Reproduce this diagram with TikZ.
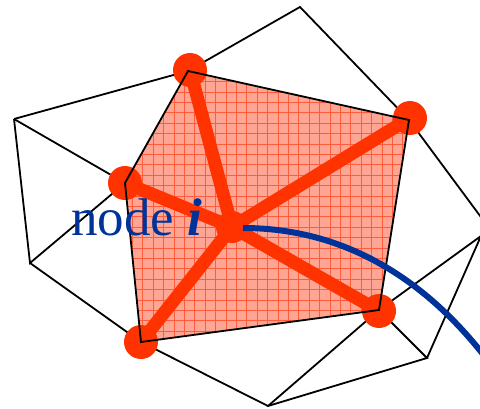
\documentclass[tikz,border=0pt]{standalone}
\usepackage{fontspec}
\setmainfont{Liberation Serif}
\definecolor{dotred}{HTML}{FF3300}
\definecolor{meshfill}{HTML}{FFA593}
\definecolor{meshline}{HTML}{FF5C3C}
\definecolor{curveblue}{HTML}{003399}
\tikzset{
  meshedge/.style={draw=black,line width=1.8pt,line join=miter},
  gridline/.style={draw=meshline,line width=0.75pt},
  hubdot/.style={circle,fill=dotred,draw=none,minimum size=34pt,inner sep=0pt},
  spoke/.style={draw=dotred,line width=13pt},
  lbl/.style={text=curveblue,font=\fontsize{53}{53}\selectfont,inner sep=0pt,anchor=base west},
  curve/.style={draw=curveblue,line width=6pt}
}
\begin{document}
\begin{tikzpicture}[x=1pt,y=-1pt]
\useasboundingbox (0,0) rectangle (480,409);
\clip (0,0) rectangle (480,409);
% outer vertices
\coordinate (t) at (300,7);
\coordinate (l) at (14,119);
\coordinate (ll) at (30,263);
\coordinate (b) at (268,406);
\coordinate (br) at (427,358);
\coordinate (r1) at (492,232);
\coordinate (r2) at (481,236);
\coordinate (end) at (482,353);
% patch vertices
\coordinate (A) at (188,71);
\coordinate (B) at (409,120);
\coordinate (C) at (379,310);
\coordinate (D) at (141,342);
\coordinate (E) at (125,183);
\coordinate (O) at (232,227);
% surrounding mesh
\draw[meshedge] (l) -- (A) -- (t) -- (B) -- (r1);
\draw[meshedge] (l) -- (E) (l) -- (ll) -- (E) (ll) -- (D) -- (b) -- (br) -- (C);
\draw[meshedge] (b) -- (C) -- (r2) -- (br);
% shaded patch
\fill[meshfill] (A) -- (B) -- (C) -- (D) -- (E) -- cycle;
\begin{scope}
\clip (A) -- (B) -- (C) -- (D) -- (E) -- cycle;
\foreach \i in {0,...,28} \draw[gridline] ({121.9+10.4*\i},60) -- ({121.9+10.4*\i},350);
\foreach \i in {0,...,28} \draw[gridline] (120,{60.7+10.4*\i}) -- (412,{60.7+10.4*\i});
\end{scope}
% nodes
\node[hubdot] (nA) at (190,70) {};
\node[hubdot] (nB) at (410,118) {};
\node[hubdot] (nC) at (379,311) {};
\node[hubdot] (nD) at (141,342) {};
\node[hubdot] (nE) at (125,183) {};
\node[hubdot,minimum size=32pt] (nO) at (O) {};
\foreach \n in {nA,nB,nC,nD,nE} \draw[spoke] (nO.center) -- (\n.center);
\draw[meshedge] (A) -- (B) -- (C) -- (D) -- (E) -- cycle;
\node[lbl] (label) at (71,236) {node \textbf{\textit{i}}};
\draw[curve] (nO.center) ++(11,1) coordinate (s) (s) .. controls (340,228) and (420,275) .. (end);
\end{tikzpicture}
\end{document}
